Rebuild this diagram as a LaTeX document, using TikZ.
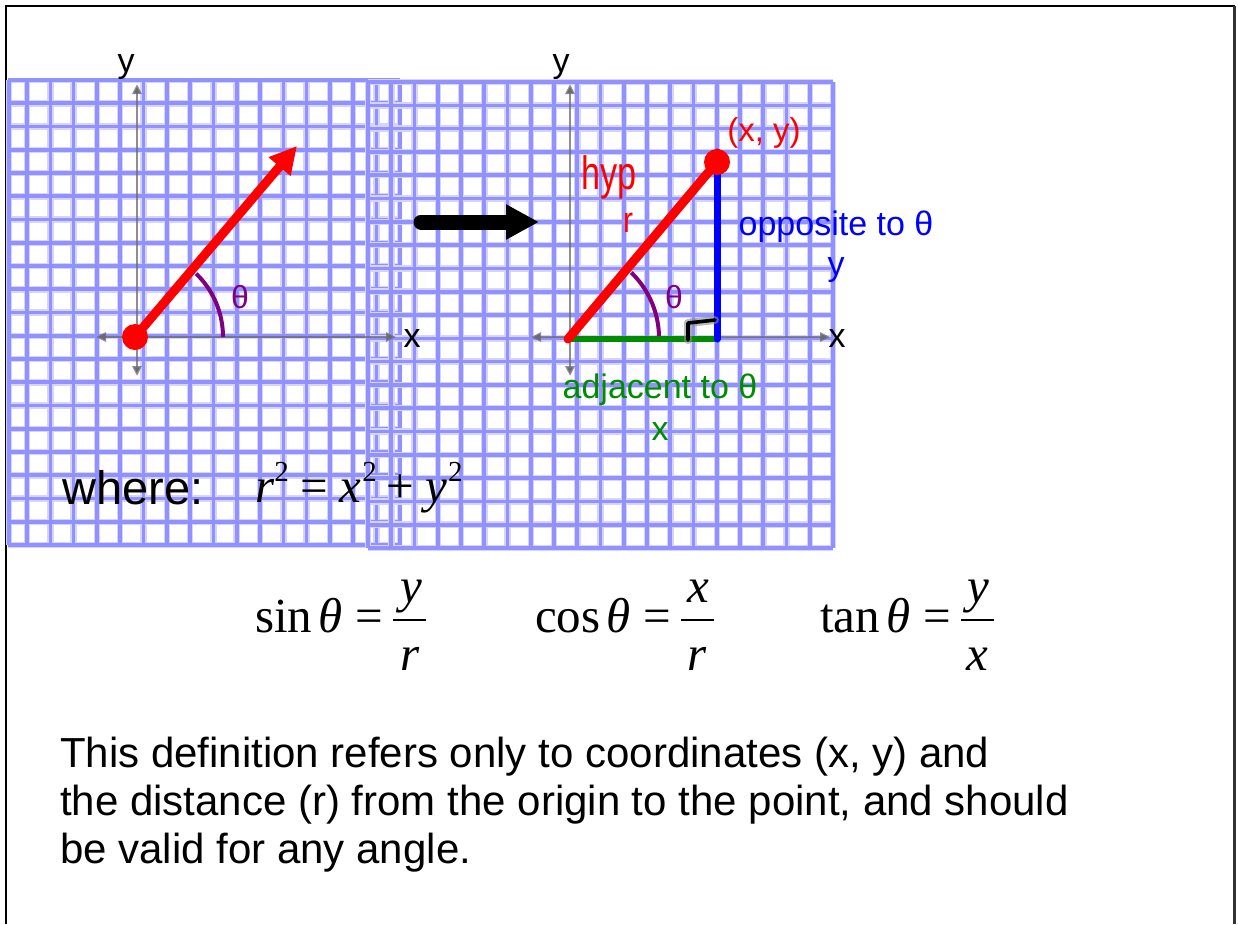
\documentclass[tikz,border=0pt]{standalone}
\usepackage{fontspec}
\setmainfont{Liberation Sans}
\newfontfamily\tms{Liberation Serif}
\usetikzlibrary{arrows.meta}
\definecolor{gridc}{RGB}{145,145,255}
\definecolor{gridh}{RGB}{212,212,255}
\definecolor{axc}{RGB}{105,105,110}
\definecolor{purp}{RGB}{128,0,128}
\definecolor{grn}{RGB}{0,140,0}
\newcommand{\sqr}{\raisebox{21pt}{\fontsize{29}{29}\selectfont 2}}
\tikzset{
  gline/.style={line width=3.6pt, draw=gridc},
  ghalo/.style={line width=6.5pt, draw=gridh},
  axis/.style={line width=2.6pt, draw=axc, draw opacity=0.75,
    {Triangle[length=10pt,width=9pt]}-{Triangle[length=10pt,width=9pt]}},
  lbl/.style={inner sep=0pt, font=\fontsize{34}{34}\selectfont},
  mth/.style={inner sep=0pt, font=\tms\fontsize{49}{49}\selectfont},
  fbar/.style={line width=2.6pt},
  txt/.style={inner sep=0pt, font=\fontsize{42}{48}\selectfont, align=left},
  angarc/.style={line width=4pt, draw=purp},
}
\begin{document}
\begin{tikzpicture}[x=1pt,y=-1pt]
\useasboundingbox (0,0) rectangle (1238,924);
\fill[white] (0,0) rectangle (1238,924);
% frame
\draw[line width=2.2pt, black] (6,924) -- (6,6) -- (1234.5,6);
\draw[line width=2.2pt, black!80] (1234.5,6) -- (1234.5,924);
% left grid
\begin{scope}
\clip (5.5,78) rectangle (402,547);
\foreach \j in {0,...,20} {\draw[ghalo] (8,80+23.25*\j) -- (400,80+23.25*\j);}
\foreach \i in {0,...,16} {\draw[ghalo] (27+23.3*\i,80) -- (27+23.3*\i,545);}
\draw[ghalo] (9,80) -- (9,545);
\foreach \j in {0,...,20} {\draw[gline] (8,80+23.25*\j) -- (400,80+23.25*\j);}
\foreach \i in {0,...,16} {\draw[gline] (27+23.3*\i,80) -- (27+23.3*\i,545);}
\draw[gline] (9,80) -- (9,545);
\end{scope}
% right grid
\foreach \j in {0,...,20} {\draw[ghalo] (368,82+23.3*\j) -- (833,82+23.3*\j);}
\foreach \i in {0,...,20} {\draw[ghalo] (368+23.25*\i,82) -- (368+23.25*\i,548);}
\foreach \j in {0,...,20} {\draw[gline] (368,82+23.3*\j) -- (833,82+23.3*\j);}
\foreach \i in {0,...,20} {\draw[gline] (368+23.25*\i,82) -- (368+23.25*\i,548);}
% coordinates
\coordinate (XL1) at (96,337); \coordinate (XR1) at (396,337);
\coordinate (YT1) at (137,84); \coordinate (YB1) at (137,376);
\coordinate (XL2) at (531,337); \coordinate (XR2) at (830,337);
\coordinate (YT2) at (570,84); \coordinate (YB2) at (570,376);
\coordinate (O1) at (135,337); \coordinate (P1) at (297,146);
\coordinate (O2) at (568,339); \coordinate (P2) at (717,162);
\coordinate (F2) at (717,339);
\coordinate (A1) at (421,222); \coordinate (A2) at (539,222);
\coordinate (R1) at (688,340); \coordinate (R2) at (688,323); \coordinate (R3) at (715,320);
% axes
\draw[axis] (XL1) -- (XR1);
\draw[axis] (YB1) -- (YT1);
\draw[axis] (XL2) -- (XR2);
\draw[axis] (YB2) -- (YT2);
\node[lbl] (ylab1) at (126,67) {y};
\node[lbl] (xlab1) at (412,339) {x};
\node[lbl] (ylab2) at (561,67) {y};
\node[lbl] (xlab2) at (837,339) {x};
% left vector
\draw[angarc] plot[domain=0:46, samples=40] ({135+88*cos(\x)},{337-88*sin(\x)});
\draw[red, line width=9pt, -{Triangle[length=27pt,width=27pt]}] (O1) -- (P1);
\fill[red] (O1) circle[radius=13pt];
\node[inner sep=0pt, text=purp, font=\fontsize{32}{32}\selectfont] (th1) at (240,297) {θ};
% arrow between
\draw[line width=15pt, line cap=round, -{Triangle[length=33pt,width=33pt]}] (A1) -- (A2);
% right triangle
\draw[angarc] plot[domain=0:46, samples=40] ({568+91*cos(\x)},{338-91*sin(\x)});
\draw[grn, line width=6.5pt] (O2) -- (F2);
\draw[blue, line width=7pt, line cap=round] (F2) -- ([yshift=10pt]P2);
\draw[black!45, line width=8pt, line cap=round, line join=round, opacity=0.6] (R1) -- (R2) -- (R3);
\draw[black, line width=3.6pt, line cap=round, line join=round] (R1) -- (R2) -- (R3);
\draw[red, line width=9pt, line cap=round] (O2) -- (P2);
\fill[red] (P2) circle[radius=13pt];
\node[inner sep=0pt, text=purp, font=\fontsize{32}{32}\selectfont] (th2) at (674,297) {θ};
\node[inner sep=0pt, text=red, font=\fontsize{33}{33}\selectfont] (pt) at (764,133) {(x, y)};
\node[inner sep=0pt, text=red, font=\fontsize{36}{36}\selectfont] (hyp) at (609,177) {\scalebox{0.95}[1.3]{hyp}};
\node[inner sep=0pt, text=red, font=\fontsize{30}{30}\selectfont] (rr) at (628,223) {\scalebox{1}[1.2]{r}};
\node[lbl, text=blue] (opp) at (836,227) {opposite to θ};
\node[lbl, text=blue] (oppy) at (836,270) {y};
\node[lbl, text=grn] (adj) at (660,390) {adjacent to θ};
\node[lbl, text=grn] (adjx) at (660,432) {x};
% where
\node[inner sep=0pt, anchor=base west, font=\fontsize{47}{47}\selectfont] (where) at (62,504) {where:};
\node[mth, anchor=base west] (pyth) at (255,502)
  {\textit{r}\sqr\hspace{12pt}=\hspace{11pt}\textit{x}\hspace{1pt}\sqr\hspace{10pt}+\hspace{11pt}\textit{y}\hspace{1pt}\sqr};
% trig formulas
\node[mth, anchor=base west] (sinl) at (255,632) {sin\hspace{6pt}\textit{θ}\hspace{13pt}=};
\node[mth, anchor=base] (sinn) at (411,602) {\textit{y}};
\node[mth, anchor=base] (sind) at (410,670) {\textit{r}};
\coordinate (sb1) at (393,620); \coordinate (sb2) at (426,620);
\draw[fbar] (sb1) -- (sb2);
\node[mth, anchor=base west] (cosl) at (535,632) {cos\hspace{6pt}\textit{θ}\hspace{13pt}=};
\node[mth, anchor=base] (cosn) at (698,602) {\textit{x}};
\node[mth, anchor=base] (cosd) at (697,670) {\textit{r}};
\coordinate (cb1) at (681,620); \coordinate (cb2) at (714,620);
\draw[fbar] (cb1) -- (cb2);
\node[mth, anchor=base west] (tanl) at (820,632) {tan\hspace{6pt}\textit{θ}\hspace{13pt}=};
\node[mth, anchor=base] (tann) at (978,602) {\textit{y}};
\node[mth, anchor=base] (tand) at (977,670) {\textit{x}};
\coordinate (tb1) at (961,620); \coordinate (tb2) at (994,620);
\draw[fbar] (tb1) -- (tb2);
% paragraph
\node[txt, anchor=north west] (para) at (60,736.5)
  {This definition refers only to coordinates (x, y) and\\
   the distance (r) from the origin to the point, and should\\
   be valid for any angle.};
\end{tikzpicture}
\end{document}
